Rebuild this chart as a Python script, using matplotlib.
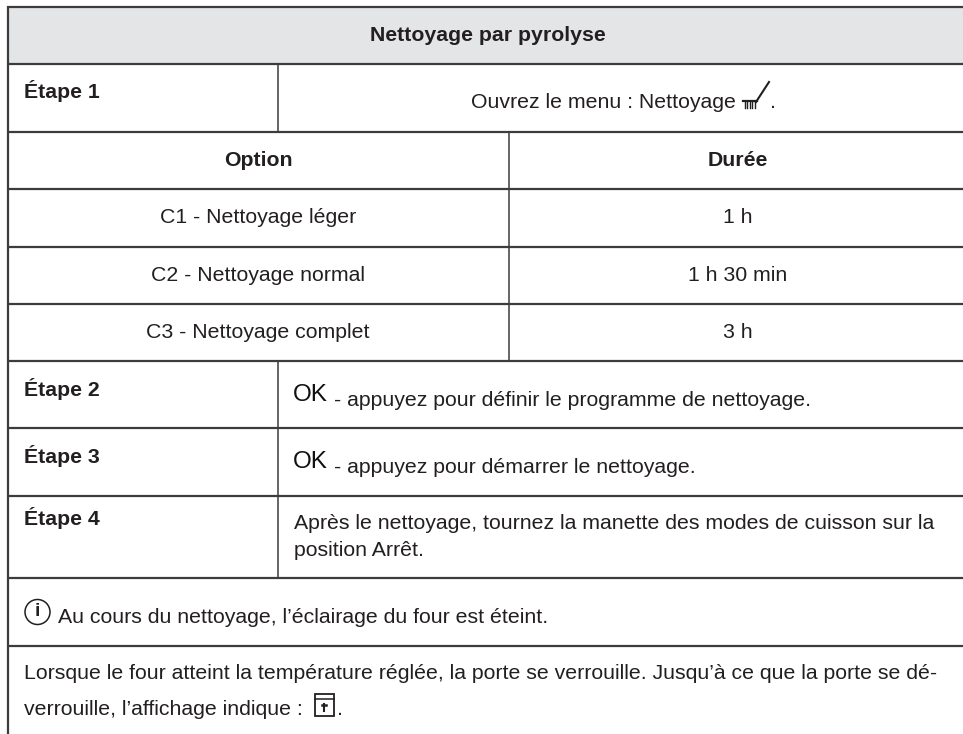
import matplotlib.pyplot as plt
from matplotlib.patches import Rectangle, Circle

plt.rcParams['font.family'] = ['Liberation Sans', 'DejaVu Sans']

W, H = 963, 734
DARK = '#3c3c3c'
TXT = '#231f20'
FS = 15.3

title = 'Nettoyage par pyrolyse'
col_heads = ['Option', 'Durée']
options = ['C1 - Nettoyage léger', 'C2 - Nettoyage normal', 'C3 - Nettoyage complet']
durees = ['1 h', '1 h 30 min', '3 h']
etapes = ['Étape 1', 'Étape 2', 'Étape 3', 'Étape 4']
menu_text = 'Ouvrez le menu : Nettoyage'
ok_texts = ['- appuyez pour définir le programme de nettoyage.',
            '- appuyez pour démarrer le nettoyage.']
etape4_lines = ['Après le nettoyage, tournez la manette des modes de cuisson sur la',
                'position Arrêt.']
info_text = 'Au cours du nettoyage, l’éclairage du four est éteint.'
note_lines = ['Lorsque le four atteint la température réglée, la porte se verrouille. Jusqu’à ce que la porte se dé-',
              'verrouille, l’affichage indique :']

fig = plt.figure(figsize=(W / 100, H / 100), dpi=100)
ax = fig.add_axes([0, 0, 1, 1])
ax.set_xlim(0, W)
ax.set_ylim(H, 0)
ax.axis('off')


def txt(x, y, s, ha='left', bold=False, size=FS, color=TXT):
    ax.text(x, y, s, ha=ha, va='baseline', fontsize=size, color=color,
            fontweight='bold' if bold else 'normal')


def hline(y, lw=1.6):
    ax.plot([7, W], [y, y], color=DARK, lw=lw, solid_capstyle='butt')


def vline(x, y0, y1, lw=1.1):
    ax.plot([x, x], [y0, y1], color=DARK, lw=lw, solid_capstyle='butt')


# header background
ax.add_patch(Rectangle((7, 7), W - 7, 56, facecolor='#e4e5e6', edgecolor='none'))

# grid
for y in [6.5, 63.5, 131.5, 189, 246.5, 303.5, 361, 428, 495.5, 578, 646]:
    hline(y)
vline(7.5, 6, H, lw=1.6)
vline(277.5, 63.5, 131.5)
vline(508.5, 131.5, 361)
vline(278, 361, 578)

# header row
txt(487.5, 41, title, ha='center', bold=True)

# steps column
for y, s in zip([97.7, 395.7, 462.7, 524.7], etapes):
    txt(24, y, s, bold=True)

# step 1
txt(471, 108, menu_text)
txt(770, 108, '.')
# brush icon
for x in [744.5, 747, 749.5, 752, 754.5]:
    ax.plot([x, x], [101, 108], color=TXT, lw=1.0)
ax.plot([743, 757], [101, 101], color=TXT, lw=1.6)
ax.plot([756, 769], [102, 82], color=TXT, lw=1.5)

# option table
txt(258, 166, col_heads[0], ha='center', bold=True)
txt(738, 166, col_heads[1], ha='center', bold=True)
for y, o, d in zip([223, 281, 338], options, durees):
    txt(258, y, o, ha='center')
    txt(738, y, d, ha='center')

# OK rows
for y, s in zip([400.7, 467.7], ok_texts):
    txt(293, y, 'OK', size=17.5, color='#111111')
    txt(334, y + 5, s)

# step 4
for y, s in zip([529, 556], etape4_lines):
    txt(294, y, s)

# info row
ax.add_patch(Circle((37.5, 612), 12.5, fill=False, edgecolor=TXT, lw=1.1))
ax.text(37.5, 612, 'i', ha='center', va='center', fontsize=14, fontweight='bold', color=TXT)
txt(58, 622.7, info_text)

# note row
for y, s in zip([679, 715], note_lines):
    txt(24, y, s)
# lock icon
ax.add_patch(Rectangle((315, 694), 18.5, 22, fill=False, edgecolor=TXT, lw=1.3))
ax.plot([315, 333.5], [699, 699], color=TXT, lw=1.1)
ax.plot([324, 324], [704, 711], color=TXT, lw=1.5)
ax.plot([322.2, 325.8], [704.5, 704.5], color=TXT, lw=1.8)
txt(337, 715, '.')

plt.savefig('out.png', dpi=100)
